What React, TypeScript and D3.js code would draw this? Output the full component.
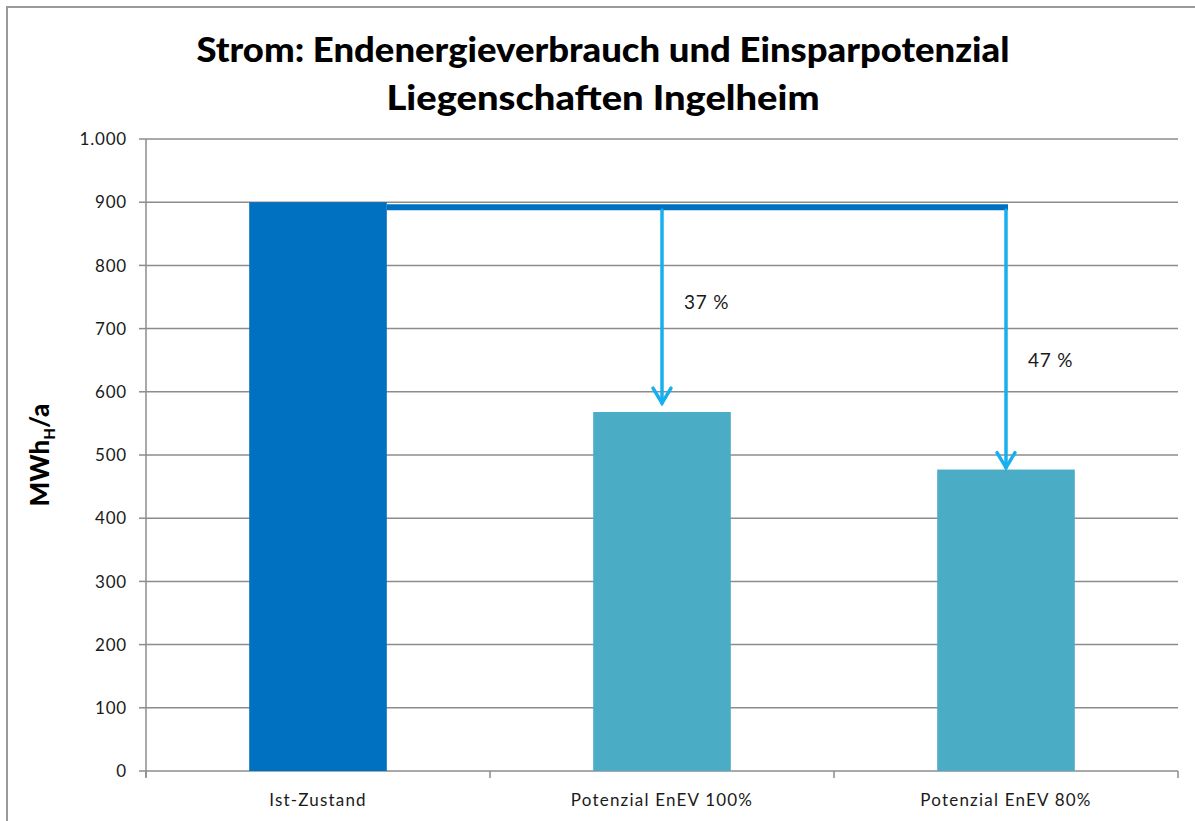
import React from "react";
import * as d3 from "d3";

const titleLines = ["Strom: Endenergieverbrauch und Einsparpotenzial", "Liegenschaften Ingelheim"];
const categories = ["Ist-Zustand", "Potenzial EnEV 100%", "Potenzial EnEV 80%"];
const values = [900, 568, 477];
const barColors = ["#0070C0", "#4BACC6", "#4BACC6"];
const yTicks = [0, 100, 200, 300, 400, 500, 600, 700, 800, 900, 1000];
const yTickLabels = ["0", "100", "200", "300", "400", "500", "600", "700", "800", "900", "1.000"];
const referenceLevel = 892;
const arrowEnds = [582, 480];
const arrowLabels = ["37 %", "47 %"];
const arrowLabelLevels = [742, 650];

const W = 1195;
const H = 821;
const FONT = "Lato, 'Open Sans', sans-serif";

export default function App() {
  const left = 146, right = 1178, top = 139, bottom = 771;
  const x = d3.scaleBand<string>().domain(categories).range([left, right]).paddingInner(0.6).paddingOuter(0.3);
  const y = d3.scaleLinear().domain([0, 1000]).range([bottom, top]);
  const step = x.step();
  const gap = (step - x.bandwidth()) / 2;
  const boundaries = [...categories.map((c) => (x(c) as number) - gap), right];
  const firstRight = (x(categories[0]) as number) + x.bandwidth();
  const arrowXs = categories.slice(1).map((c) => (x(c) as number) + x.bandwidth() / 2);
  const lineY = y(referenceLevel);

  return (
    <svg width={W} height={H} style={{ position: "absolute", left: 0, top: 0, background: "#fff" }}>
      <rect x={7} y={7} width={1300} height={900} fill="#fff" stroke="#9a9a9a" strokeWidth={2} />
      {titleLines.map((t, i) => (
        <text key={t} x={603} y={62 + i * 48} textAnchor="middle" fontFamily={FONT} fontWeight="900" fontSize={34}
          fill="#000" textLength={i === 0 ? 813 : 433} lengthAdjust="spacingAndGlyphs">{t}</text>
      ))}
      {yTicks.map((t) => (
        <line key={"g" + t} x1={left} x2={right} y1={y(t)} y2={y(t)} stroke="#8c8c8c" strokeWidth={1.5} />
      ))}
      {yTicks.map((t) => (
        <line key={"t" + t} x1={left - 7} x2={left} y1={y(t)} y2={y(t)} stroke="#8c8c8c" strokeWidth={1.5} />
      ))}
      {yTicks.map((t, i) => (
        <text key={"l" + t} x={127} y={y(t)} dy="0.36em" textAnchor="end" fontFamily={FONT} fontSize={17} letterSpacing={0.8} fill="#1a1a1a">
          {yTickLabels[i]}
        </text>
      ))}
      <line x1={left} x2={left} y1={top} y2={bottom + 6} stroke="#8c8c8c" strokeWidth={1.5} />
      {boundaries.map((b, i) => (
        <line key={"xb" + i} x1={b} x2={b} y1={bottom} y2={bottom + 7} stroke="#8c8c8c" strokeWidth={1.5} />
      ))}
      {categories.map((c, i) => (
        <rect key={c} x={x(c)} y={y(values[i])} width={x.bandwidth()} height={bottom - y(values[i])} fill={barColors[i]} />
      ))}
      {categories.map((c) => (
        <text key={"x" + c} x={(x(c) as number) + x.bandwidth() / 2} y={806} textAnchor="middle" fontFamily={FONT} fontSize={17} letterSpacing={1.2} fill="#1a1a1a">
          {c}
        </text>
      ))}
      <text transform={`translate(49,455) rotate(-90)`} textAnchor="middle" fontFamily={FONT} fontWeight="900" fontSize={26} fill="#000">
        MWh<tspan fontSize={15} dy={6}>H</tspan><tspan dy={-6}>/a</tspan>
      </text>
      <line x1={firstRight} x2={arrowXs[arrowXs.length - 1] + 2} y1={lineY} y2={lineY} stroke="#0070C0" strokeWidth={6} />
      {arrowXs.map((ax, i) => {
        const tip = y(arrowEnds[i]);
        return (
          <g key={"a" + i} stroke="#17B0EE" strokeWidth={3.5} fill="none" strokeLinecap="round">
            <line x1={ax} x2={ax} y1={lineY + 3} y2={tip} />
            <polyline points={`${ax - 9},${tip - 15} ${ax},${tip} ${ax + 9},${tip - 15}`} strokeLinejoin="miter" />
          </g>
        );
      })}
      {arrowXs.map((ax, i) => (
        <text key={"p" + i} x={ax + 22} y={y(arrowLabelLevels[i])} dy="0.36em" fontFamily={FONT} fontSize={19} letterSpacing={0.8} fill="#1a1a1a">
          {arrowLabels[i]}
        </text>
      ))}
    </svg>
  );
}
